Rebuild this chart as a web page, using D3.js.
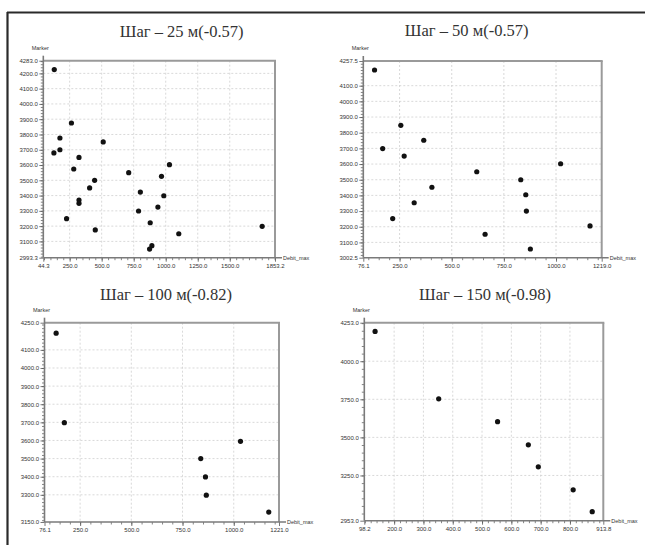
<!DOCTYPE html>
<html><head><meta charset="utf-8">
<script src="https://cdn.jsdelivr.net/npm/d3@7"></script>
<style>
html,body{margin:0;padding:0;background:#fff;}
svg{display:block;}
</style></head>
<body>
<svg id="chart" width="645" height="553"></svg>
<script>
// ---------- data ----------
const titles = ["Шаг – 25 м(-0.57)", "Шаг – 50 м(-0.57)", "Шаг – 100 м(-0.82)", "Шаг – 150 м(-0.98)"];
const xLabel = "Debit_max";
const yLabel = "Marker";

const debit25  = [130, 264, 174, 174, 127, 323, 282, 512, 445, 406, 323, 323, 226, 450, 711, 802, 788, 879, 892, 874, 1029, 967, 985, 939, 1102, 1753];
const marker25 = [4225, 3875, 3777, 3700, 3679, 3650, 3574, 3751, 3500, 3450, 3371, 3349, 3249, 3175, 3550, 3423, 3299, 3222, 3072, 3050, 3602, 3526, 3399, 3325, 3150, 3199];

const debit50  = [130, 256, 169, 366, 272, 405, 320, 217, 620, 660, 831, 855, 858, 877, 1022, 1163];
const marker50 = [4200, 3847, 3699, 3752, 3651, 3452, 3353, 3252, 3551, 3152, 3500, 3404, 3300, 3058, 3602, 3205];

const debit100  = [133, 173, 1033, 839, 862, 866, 1171];
const marker100 = [4192, 3698, 3595, 3500, 3399, 3298, 3205];

const debit150  = [135, 352, 553, 658, 692, 811, 876];
const marker150 = [4196, 3753, 3603, 3451, 3307, 3156, 3012];

const xTicks25 = [44.3, 250, 500, 750, 1000, 1250, 1500, 1853.2];
const yTicks25 = [2993.3, 3100, 3200, 3300, 3400, 3500, 3600, 3700, 3800, 3900, 4000, 4100, 4200, 4283.0];
const xTicks50 = [76.1, 250, 500, 750, 1000, 1219.0];
const yTicks50 = [3002.5, 3100, 3200, 3300, 3400, 3500, 3600, 3700, 3800, 3900, 4000, 4100, 4257.5];
const xTicks100 = [76.1, 250, 500, 750, 1000, 1221.0];
const yTicks100 = [3150, 3300, 3400, 3500, 3600, 3700, 3800, 3900, 4000, 4100, 4250];
const xTicks150 = [98.2, 200, 300, 400, 500, 600, 700, 800, 913.8];
const yTicks150 = [2953.0, 3250, 3500, 3750, 4000, 4253.0];

// ---------- layout ----------
const panels = [
  {title: titles[0], xs: debit25, ys: marker25, xt: xTicks25, yt: yTicks25, l: 43.3, r: 275, t: 60.7, b: 257.7, tx: 181.7, ty: 37, xMinor: 50, yMinor: 20},
  {title: titles[1], xs: debit50, ys: marker50, xt: xTicks50, yt: yTicks50, l: 363.3, r: 601.7, t: 61, b: 257.7, tx: 466.7, ty: 36, xMinor: 50, yMinor: 20},
  {title: titles[2], xs: debit100, ys: marker100, xt: xTicks100, yt: yTicks100, l: 44.5, r: 279, t: 322.7, b: 522, tx: 166, ty: 300, xMinor: 50, yMinor: 20},
  {title: titles[3], xs: debit150, ys: marker150, xt: xTicks150, yt: yTicks150, l: 364.3, r: 603.3, t: 322.7, b: 520.7, tx: 485, ty: 300, xMinor: 20, yMinor: 50}
];

const svg = d3.select("#chart");
svg.append("rect").attr("width", 645).attr("height", 553).attr("fill", "#fff");

// outer frame (top and left edges)
svg.append("line").attr("x1", 7).attr("x2", 645).attr("y1", 12.5).attr("y2", 12.5)
  .attr("stroke", "#2a2a2a").attr("stroke-width", 2.2);
svg.append("line").attr("x1", 7.5).attr("x2", 7.5).attr("y1", 12).attr("y2", 545)
  .attr("stroke", "#2a2a2a").attr("stroke-width", 2.2);

const fmt = d3.format(".1f");

panels.forEach(p => {
  const xd = [p.xt[0], p.xt[p.xt.length - 1]];
  const yd = [p.yt[0], p.yt[p.yt.length - 1]];
  const x = d3.scaleLinear().domain(xd).range([p.l, p.r]);
  const y = d3.scaleLinear().domain(yd).range([p.b, p.t]);
  const g = svg.append("g");

  // title
  g.append("text").attr("x", p.tx).attr("y", p.ty).attr("text-anchor", "middle")
    .attr("font-family", "Liberation Serif, 'DejaVu Serif', serif").attr("font-size", 16.5)
    .attr("fill", "#333").text(p.title);

  // grid
  const xInner = p.xt.slice(1, -1), yInner = p.yt.slice(1, -1);
  g.selectAll(".gx").data(xInner).join("line")
    .attr("x1", d => x(d)).attr("x2", d => x(d)).attr("y1", p.t).attr("y2", p.b)
    .attr("stroke", "#cfcfcf").attr("stroke-width", 0.8).attr("stroke-dasharray", "2,2");
  g.selectAll(".gy").data(yInner).join("line")
    .attr("x1", p.l).attr("x2", p.r).attr("y1", d => y(d)).attr("y2", d => y(d))
    .attr("stroke", "#cfcfcf").attr("stroke-width", 0.8).attr("stroke-dasharray", "2,2");

  // frame top & right
  g.append("line").attr("x1", p.l).attr("x2", p.r + 1).attr("y1", p.t).attr("y2", p.t)
    .attr("stroke", "#9a9a9a").attr("stroke-width", 2);
  g.append("line").attr("x1", p.r).attr("x2", p.r).attr("y1", p.t).attr("y2", p.b)
    .attr("stroke", "#9a9a9a").attr("stroke-width", 2);

  // minor ticks
  const xMin = d3.range(Math.ceil(xd[0] / p.xMinor) * p.xMinor, xd[1], p.xMinor);
  const yMin = d3.range(Math.ceil(yd[0] / p.yMinor) * p.yMinor, yd[1], p.yMinor);
  g.append("g").attr("transform", `translate(0,${p.b})`)
    .call(d3.axisBottom(x).tickValues(xMin).tickSize(2.5).tickFormat(""))
    .call(a => a.select(".domain").remove())
    .call(a => a.selectAll("line").attr("stroke", "#666").attr("stroke-width", 0.8));
  g.append("g").attr("transform", `translate(${p.l},0)`)
    .call(d3.axisLeft(y).tickValues(yMin).tickSize(2.5).tickFormat(""))
    .call(a => a.select(".domain").remove())
    .call(a => a.selectAll("line").attr("stroke", "#666").attr("stroke-width", 0.8));

  // major ticks + labels
  g.append("g").attr("transform", `translate(0,${p.b})`)
    .call(d3.axisBottom(x).tickValues(p.xt).tickSize(4).tickPadding(2).tickFormat(fmt))
    .call(a => a.select(".domain").remove())
    .call(a => a.selectAll("line").attr("stroke", "#555").attr("stroke-width", 0.8))
    .call(a => a.selectAll("text").attr("font-family", "Liberation Sans, Arial, sans-serif")
      .attr("font-size", 6).attr("fill", "#333"));
  g.append("g").attr("transform", `translate(${p.l},0)`)
    .call(d3.axisLeft(y).tickValues(p.yt).tickSize(4).tickPadding(1.5).tickFormat(fmt))
    .call(a => a.select(".domain").remove())
    .call(a => a.selectAll("line").attr("stroke", "#555").attr("stroke-width", 0.8))
    .call(a => a.selectAll("text").attr("font-family", "Liberation Sans, Arial, sans-serif")
      .attr("font-size", 6).attr("fill", "#333"));

  // axis lines (extended)
  g.append("line").attr("x1", p.l).attr("x2", p.r + 7).attr("y1", p.b).attr("y2", p.b)
    .attr("stroke", "#7a7a7a").attr("stroke-width", 1.6);
  g.append("line").attr("x1", p.l).attr("x2", p.l).attr("y1", p.t - 5).attr("y2", p.b)
    .attr("stroke", "#7a7a7a").attr("stroke-width", 1.6);

  // axis titles
  g.append("text").attr("x", p.r + 8).attr("y", p.b + 2).attr("font-family", "Liberation Sans, Arial, sans-serif")
    .attr("font-size", 5.5).attr("fill", "#333").text(xLabel);
  g.append("text").attr("x", p.l - 3).attr("y", p.t - 11).attr("text-anchor", "middle")
    .attr("font-family", "Liberation Sans, Arial, sans-serif")
    .attr("font-size", 5.5).attr("fill", "#333").text(yLabel);

  // points
  g.selectAll(".pt").data(d3.zip(p.xs, p.ys)).join("circle")
    .attr("cx", d => x(d[0])).attr("cy", d => y(d[1])).attr("r", 2.6).attr("fill", "#111");
});
</script>
</body></html>
